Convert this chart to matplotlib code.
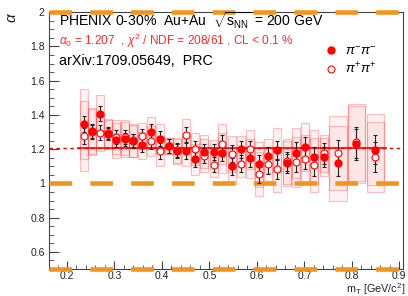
"""alpha vs mT, PHENIX 0-30% Au+Au (headless / Agg)."""

import matplotlib

matplotlib.use("Agg")
import matplotlib.pyplot as plt  # noqa: E402
from matplotlib.lines import Line2D  # noqa: E402
from matplotlib.patches import Rectangle  # noqa: E402
from matplotlib.ticker import MultipleLocator  # noqa: E402

# ---- data ----
mt = [0.236, 0.253, 0.270, 0.286, 0.303, 0.322, 0.339, 0.358, 0.377, 0.395,
      0.414, 0.432, 0.450, 0.470, 0.489, 0.509, 0.527, 0.547, 0.567, 0.586,
      0.605, 0.624, 0.643, 0.663, 0.683, 0.702, 0.721, 0.741, 0.771, 0.809, 0.849]
alpha_mm = [1.348, 1.305, 1.407, 1.286, 1.251, 1.257, 1.247, 1.222, 1.300, 1.261,
            1.218, 1.189, 1.189, 1.140, 1.185, 1.183, 1.179, 1.101, 1.199, 1.148,
            1.111, 1.160, 1.195, 1.117, 1.179, 1.212, 1.154, 1.154, 1.117, 1.229, 1.196]
alpha_pp = [1.276, 1.300, 1.296, 1.292, 1.270, 1.270, 1.251, 1.276, 1.247, 1.189,
            1.218, 1.195, 1.284, 1.202, 1.163, 1.109, 1.231, 1.173, 1.115, 1.199,
            1.056, 1.111, 1.082, 1.130, 1.124, 1.144, 1.105, 1.175, 1.179, 1.241, 1.154]
stat = [0.045, 0.040, 0.045, 0.035, 0.040, 0.040, 0.040, 0.040, 0.045, 0.045,
        0.040, 0.040, 0.045, 0.045, 0.045, 0.045, 0.050, 0.050, 0.050, 0.050,
        0.055, 0.055, 0.055, 0.055, 0.060, 0.060, 0.060, 0.060, 0.075, 0.090, 0.085]
syst = [0.206, 0.133, 0.107, 0.085, 0.101, 0.103, 0.094, 0.077, 0.087, 0.085,
        0.049, 0.073, 0.090, 0.093, 0.096, 0.072, 0.116, 0.106, 0.080, 0.114,
        0.130, 0.098, 0.130, 0.132, 0.145, 0.138, 0.158, 0.110, 0.217, 0.225, 0.207]
bin_half = [0.0085] * 28 + [0.019, 0.018, 0.018]

alpha0 = 1.207
fit_range = (0.223, 0.872)
ref_levels = [2.0, 1.0, 0.5]

plt.rcParams["font.family"] = ["Liberation Sans", "DejaVu Sans"]
plt.rcParams["mathtext.fontset"] = "custom"
plt.rcParams["mathtext.rm"] = "Liberation Sans"
plt.rcParams["mathtext.it"] = "Liberation Sans:italic"
plt.rcParams["lines.scale_dashes"] = False

RED = "#ff0000"
ORANGE = "#f0961e"

fig = plt.figure(figsize=(4.08, 2.96), dpi=100)
ax = fig.add_axes([0.120, 0.091, 0.868, 0.868])
ax.set_xlim(0.162, 0.908)
ax.set_ylim(0.5, 2.0)

# systematic boxes
for x, h, ym, yp, s in zip(mt, bin_half, alpha_mm, alpha_pp, syst):
    for y in (ym, yp):
        ax.add_patch(Rectangle((x - h, y - s), 2 * h, 2 * s,
                               facecolor=(1, 0, 0, 0.05), edgecolor=(1, 0.25, 0.25, 0.32),
                               lw=0.8, zorder=2))

# reference levels
for lev in ref_levels:
    ax.axhline(lev, color=ORANGE, lw=3.3, linestyle=(0, (16.3, 13.1)),
               clip_on=False, zorder=4, dash_capstyle="butt")

# fit
ax.axhline(alpha0, color=RED, lw=1.0, linestyle=(0, (2.5, 2.5)), zorder=3)
ax.plot(fit_range, [alpha0, alpha0], color=RED, lw=1.2, zorder=3)

# stat errors and points
ax.errorbar(mt, alpha_pp, yerr=stat, fmt="none", ecolor="#222222", elinewidth=0.8,
            capsize=1.2, capthick=0.8, zorder=5)
ax.errorbar(mt, alpha_mm, yerr=stat, fmt="none", ecolor="#222222", elinewidth=0.8,
            capsize=1.2, capthick=0.8, zorder=5)
ax.plot(mt, alpha_pp, "o", ms=5, mfc="white", mec=RED, mew=0.8, ls="none", zorder=6)
ax.plot(mt, alpha_mm, "o", ms=5, mfc=RED, mec=RED, ls="none", zorder=7)

# axes cosmetics
ax.xaxis.set_minor_locator(MultipleLocator(0.02))
ax.yaxis.set_minor_locator(MultipleLocator(0.05))
ax.set_xticks([0.2, 0.3, 0.4, 0.5, 0.6, 0.7, 0.8, 0.9])
ax.set_xticklabels(["0.2", "0.3", "0.4", "0.5", "0.6", "0.7", "0.8", "0.9"])
ax.set_yticks([0.6, 0.8, 1.0, 1.2, 1.4, 1.6, 1.8, 2.0])
ax.set_yticklabels(["0.6", "0.8", "1", "1.2", "1.4", "1.6", "1.8", "2"])
ax.tick_params(which="both", direction="in", top=False, right=False,
               color="#444444", labelsize=7.5, labelcolor="#222222")
ax.tick_params(axis="y", which="major", length=7, pad=3)
ax.tick_params(axis="y", which="minor", length=3.6)
ax.tick_params(axis="x", which="major", length=5.8, pad=1.5)
ax.tick_params(axis="x", which="minor", length=3)
for sp in ax.spines.values():
    sp.set_color("#444444")
    sp.set_linewidth(0.8)

ax.set_xlabel(r"m$_{\mathrm{T}}$ [GeV/c$^{2}$]", fontsize=7.8, color="#222222")
ax.xaxis.set_label_coords(1.005, -0.048)
ax.xaxis.label.set_ha("right")
ax.xaxis.label.set_va("top")
ax.set_ylabel(r"$\alpha$", fontsize=11, rotation=90, color="#222222")
ax.yaxis.set_label_coords(-0.105, 1.0)
ax.yaxis.label.set_va("center")
ax.yaxis.label.set_ha("right")

ax.text(0.028, 0.945, r"PHENIX 0-30%  Au+Au  $\sqrt{\mathrm{s}_{\mathrm{NN}}}$ = 200 GeV",
        transform=ax.transAxes, fontsize=10.1, va="baseline", zorder=8)
ax.text(0.028, 0.872, r"$\alpha_{0}$ = 1.207  , $\chi^{2}$ / NDF = 208/61 , CL < 0.1 %",
        transform=ax.transAxes, fontsize=8.6, color="#ff2a2a", va="baseline", zorder=8)
ax.text(0.028, 0.794, "arXiv:1709.05649,  PRC",
        transform=ax.transAxes, fontsize=10.3, va="baseline", zorder=8)

handles = [
    Line2D([], [], marker="o", ls="none", ms=5, mfc=RED, mec=RED),
    Line2D([], [], marker="o", ls="none", ms=5, mfc="white", mec=RED, mew=0.8),
]
ax.legend(handles, [r"$\pi^{-}\pi^{-}$", r"$\pi^{+}\pi^{+}$"], loc="upper left",
          bbox_to_anchor=(0.755, 0.895), frameon=False, fontsize=9.5,
          handlelength=1.2, handletextpad=0.5, labelspacing=0.25, borderpad=0)

fig.savefig("out.png", dpi=100)
plt.close(fig)
